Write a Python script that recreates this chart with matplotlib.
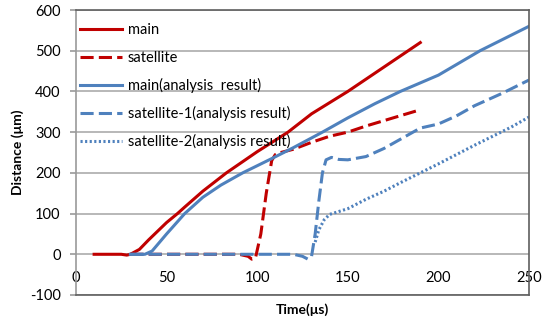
import matplotlib.pyplot as plt

plt.rcParams['font.family'] = ['Lato', 'DejaVu Sans']
plt.rcParams['axes.unicode_minus'] = False

# Data
main_t = [10, 25, 28, 30, 35, 40, 50, 56, 60, 70, 83, 100, 117, 130, 150, 170, 190]
main_d = [0, 0, -2, 0, 12, 35, 78, 100, 116, 155, 200, 252, 300, 345, 400, 460, 520]

sat_t = [30, 60, 90, 95, 97, 99, 102, 105, 108, 110, 113, 120, 130, 140, 150, 160, 175, 190]
sat_d = [0, 0, 0, -5, -12, -10, 50, 150, 230, 245, 250, 258, 275, 290, 300, 315, 335, 355]

main_a_t = [30, 38, 42, 50, 60, 70, 80, 92, 108, 120, 136, 150, 165, 179, 200, 223, 250]
main_a_d = [0, 0, 8, 50, 100, 140, 170, 200, 235, 262, 300, 335, 370, 400, 440, 500, 560]

sat1_t = [30, 120, 125, 128, 130, 132, 134, 136, 138, 141, 145, 150, 160, 170, 180, 190, 200, 210, 220, 235, 250]
sat1_d = [0, 0, -5, -12, -5, 50, 130, 200, 232, 238, 233, 232, 240, 260, 285, 310, 320, 340, 365, 395, 428]

sat2_t = [132, 134, 137, 140, 150, 160, 170, 180, 190, 200, 210, 220, 230, 240, 250]
sat2_d = [30, 60, 85, 98, 112, 135, 155, 178, 200, 222, 245, 268, 290, 312, 337]

red = '#C00000'
blue = '#4F81BD'
lw = 2.2
dash = (0, (4.3, 1.7))

fig = plt.figure(figsize=(5.46, 3.24), dpi=100)
ax = fig.add_axes([76 / 546, 1 - 295 / 324, 453 / 546, 285 / 324])

ax.plot(main_t, main_d, color=red, lw=lw, label='main')
ax.plot(sat_t, sat_d, color=red, lw=lw, ls=dash, label='satellite')
ax.plot(main_a_t, main_a_d, color=blue, lw=lw, label='main(analysis  result)')
ax.plot(sat1_t, sat1_d, color=blue, lw=lw, ls=dash, label='satellite-1(analysis result)')
ax.plot(sat2_t, sat2_d, color=blue, lw=lw, ls=(0, (0.7, 0.8)), label='satellite-2(analysis result)')

ax.set_xlim(0, 250)
ax.set_ylim(-100, 600)
ax.set_xticks(range(0, 251, 50))
ax.set_yticks(range(-100, 601, 100))
ax.grid(axis='y', color='#ababab', lw=1.2)
ax.set_axisbelow(True)
for s in ['top', 'right', 'bottom']:
    ax.spines[s].set_color('#5f5f5f')
ax.spines['left'].set_color('#9a9a9a')
for s in ax.spines.values():
    s.set_linewidth(1.2)
ax.tick_params(axis='x', length=0, pad=-17, labelsize=10.5)
ax.tick_params(axis='y', length=4, width=1.2, color='#9a9a9a', pad=7, labelsize=10.5)

ax.set_xlabel('Time(μs)', fontweight='bold', fontsize=10)
ax.xaxis.set_label_coords(0.5, -0.028)
ax.set_ylabel('Distance (μm)', fontweight='bold', fontsize=10)
ax.yaxis.set_label_coords(-0.115, 0.5)

ax.legend(loc='upper left', bbox_to_anchor=(0, 0.968), frameon=False, fontsize=10.5,
          handlelength=2.85, labelspacing=0.9, borderaxespad=0.1, borderpad=0.2,
          handletextpad=0.4)

fig.savefig('out.png', dpi=100)
